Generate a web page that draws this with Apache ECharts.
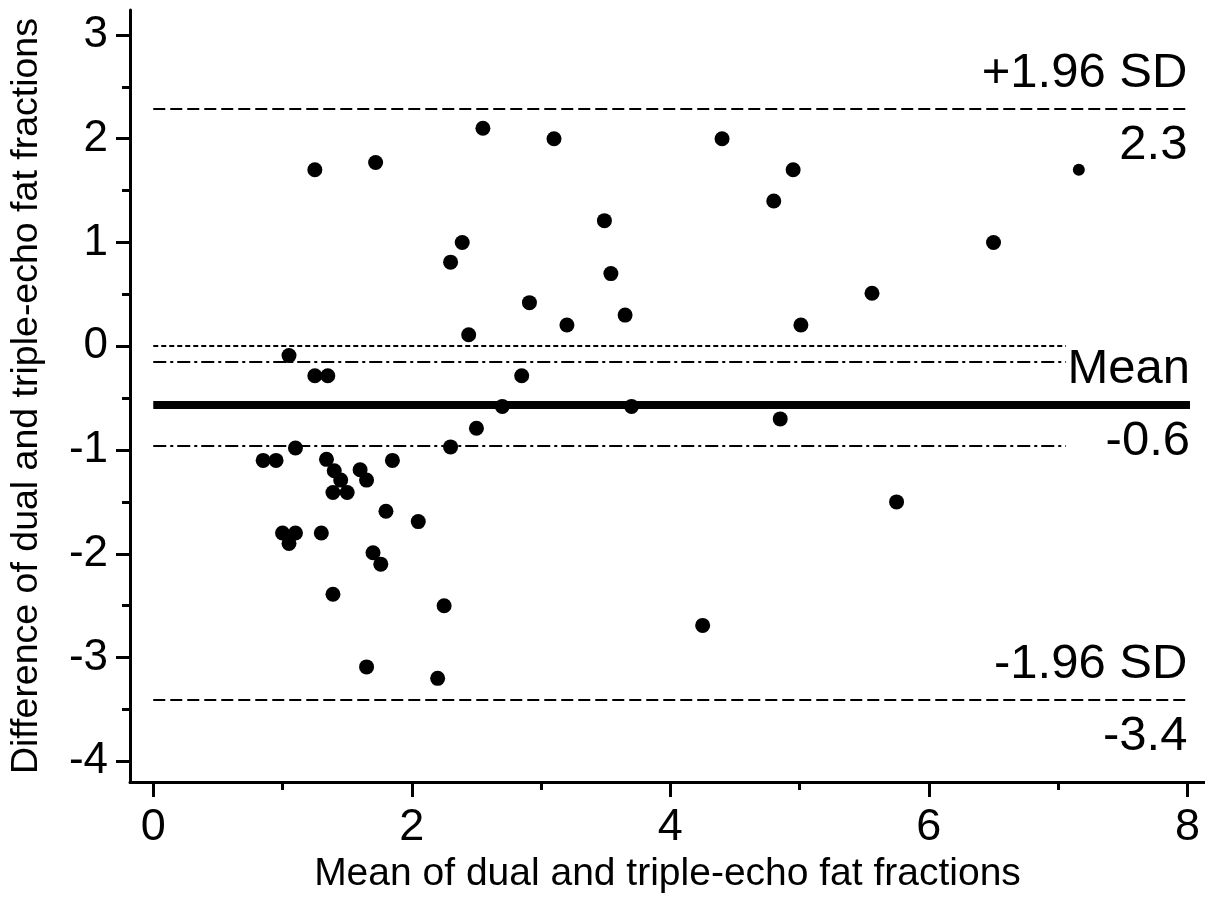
<!DOCTYPE html>
<html>
<head>
<meta charset="utf-8">
<script src="https://cdn.jsdelivr.net/npm/echarts@6/dist/echarts.min.js"></script>
<style>html,body{margin:0;padding:0;background:#fff;}#chart{width:1205px;height:899px;}</style>
</head>
<body>
<div id="chart"></div>
<script>
// Mean of dual and triple-echo fat fractions (x) and their difference (y)
const meanValues = [0.85,0.95,1.05,1.25,1.35,1.10,1.34,1.40,1.45,1.39,1.50,1.60,1.65,1.85,1.80,2.05,1.00,1.10,1.05,1.30,1.70,1.76,1.39,2.25,1.65,2.20,
  2.55,3.10,3.49,2.39,2.30,3.54,2.91,3.20,3.65,2.44,2.85,2.70,3.70,2.50,2.30,1.25,1.72,4.40,4.80,4.95,5.56,5.01,4.85,5.75,4.25,6.50];
const diffValues = [-1.10,-1.10,-0.09,-0.285,-0.285,-0.98,-1.09,-1.20,-1.29,-1.41,-1.41,-1.19,-1.29,-1.10,-1.59,-1.69,-1.80,-1.80,-1.90,-1.80,-1.99,-2.10,-2.39,-2.50,-3.09,-3.20,
  2.10,2.00,1.21,1.00,0.81,0.70,0.42,0.205,0.30,0.11,-0.285,-0.58,-0.58,-0.79,-0.97,1.70,1.77,2.00,1.40,1.70,0.51,0.205,-0.70,-1.50,-2.69,1.00];
const smallMean = [7.16];
const smallDiff = [1.70];

// Reference lines
const upperLoA = 2.29;
const lowerLoA = -3.41;
const meanDiff = -0.565;
const ciUpper = -0.15;
const ciLower = -0.96;
const zeroDiff = 0;
const lineStartX = 0;
const loaEndX = 8.0;
const meanEndX = 8.02;
const shortEndX = 7.06;

// Annotation texts
const upperTexts = ['+1.96 SD', '2.3'];
const meanTexts = ['Mean', '-0.6'];
const lowerTexts = ['-1.96 SD', '-3.4'];

// Ticks
const xMajorTicks = [0, 2, 4, 6, 8];
const xMinorTicks = [1, 3, 5, 7];
const yMajorTicks = [-4, -3, -2, -1, 0, 1, 2, 3];
const yMinorTicks = [-3.5, -2.5, -1.5, -0.5, 0.5, 1.5, 2.5];
const xRange = [-0.18, 8.136];
const yRange = [-4.2, 3.24];

const FONT = "'Liberation Sans', Arial, sans-serif";

const points = meanValues.map((x, i) => [x, diffValues[i]]);
const smallPoints = smallMean.map((x, i) => [x, smallDiff[i]]);

function hLine(y, x0, x1, style, label) {
  return [
    { coord: [x0, y], lineStyle: style, label: label || { show: false } },
    { coord: [x1, y] }
  ];
}
const invisible = { color: 'rgba(0,0,0,0)', width: 0 };
const dashed = { color: '#000', width: 2, type: [12, 5] };
const dotted = { color: '#000', width: 2, type: [5, 3] };
const dashDot = { color: '#000', width: 2, type: [13, 4, 3, 4] };
const solidThick = { color: '#000', width: 8, type: 'solid' };
function topLabel(t) { return { show: true, position: 'insideEndTop', distance: [0, 11], formatter: t, color: '#000', fontSize: 49, fontFamily: FONT }; }
function bottomLabel(t) { return { show: true, position: 'insideEndBottom', distance: [0, 12], formatter: t, color: '#000', fontSize: 49, fontFamily: FONT }; }

const chart = echarts.init(document.getElementById('chart'), null, { renderer: 'canvas' });
chart.setOption({
  animation: false,
  backgroundColor: '#fff',
  grid: { left: 130, right: 0, top: 10, bottom: 114, containLabel: false },
  xAxis: [{
    type: 'value', min: xRange[0], max: xRange[1], position: 'bottom',
    name: 'Mean of dual and triple-echo fat fractions', nameLocation: 'middle', nameGap: 70,
    nameTextStyle: { fontSize: 39, color: '#000', fontFamily: FONT },
    axisLine: { onZero: false, lineStyle: { color: '#000', width: 3 } },
    axisTick: { show: true, length: 15, customValues: xMajorTicks, lineStyle: { color: '#000', width: 3 } },
    axisLabel: { customValues: xMajorTicks, fontSize: 45, color: '#000', fontFamily: FONT, margin: 23 },
    splitLine: { show: false }
  }, {
    type: 'value', min: xRange[0], max: xRange[1], position: 'bottom',
    axisLine: { show: false, onZero: false },
    axisTick: { show: true, length: 8, customValues: xMinorTicks, lineStyle: { color: '#000', width: 3 } },
    axisLabel: { show: false },
    splitLine: { show: false }
  }],
  yAxis: [{
    type: 'value', min: yRange[0], max: yRange[1], position: 'left',
    name: 'Difference of dual and triple-echo fat fractions', nameLocation: 'middle', nameGap: 84,
    nameTextStyle: { fontSize: 37.5, color: '#000', fontFamily: FONT },
    axisLine: { onZero: false, lineStyle: { color: '#000', width: 3 } },
    axisTick: { show: true, length: 14, customValues: yMajorTicks, lineStyle: { color: '#000', width: 3 } },
    axisLabel: { customValues: yMajorTicks, fontSize: 44, color: '#000', fontFamily: FONT, margin: 22 },
    splitLine: { show: false }
  }, {
    type: 'value', min: yRange[0], max: yRange[1], position: 'left',
    axisLine: { show: false, onZero: false },
    axisTick: { show: true, length: 8, customValues: yMinorTicks, lineStyle: { color: '#000', width: 3 } },
    axisLabel: { show: false },
    splitLine: { show: false }
  }],
  series: [{
    type: 'scatter',
    data: points,
    symbol: 'circle',
    symbolSize: 15,
    itemStyle: { color: '#000', opacity: 1 },
    z: 3,
    markLine: {
      silent: true,
      symbol: ['none', 'none'],
      z: 1,
      animation: false,
      data: [
        hLine(upperLoA, lineStartX, loaEndX, dashed, topLabel(upperTexts[0])),
        hLine(upperLoA, lineStartX, loaEndX, invisible, bottomLabel(upperTexts[1])),
        hLine(zeroDiff, lineStartX, shortEndX, dotted),
        hLine(ciUpper, lineStartX, shortEndX, dashDot),
        hLine(meanDiff, lineStartX, meanEndX, solidThick, topLabel(meanTexts[0])),
        hLine(meanDiff, lineStartX, meanEndX, invisible, bottomLabel(meanTexts[1])),
        hLine(ciLower, lineStartX, shortEndX, dashDot),
        hLine(lowerLoA, lineStartX, loaEndX, dashed, topLabel(lowerTexts[0])),
        hLine(lowerLoA, lineStartX, loaEndX, invisible, bottomLabel(lowerTexts[1]))
      ]
    }
  }, {
    type: 'scatter',
    data: smallPoints,
    symbol: 'circle',
    symbolSize: 12,
    itemStyle: { color: '#000', opacity: 1 },
    z: 3
  }]
});
</script>
</body>
</html>
